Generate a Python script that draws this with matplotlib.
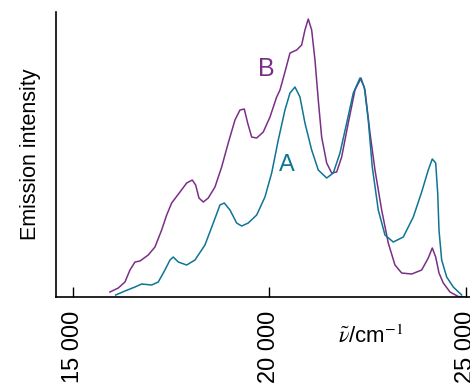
import matplotlib.pyplot as plt

plt.rcParams['font.family'] = ['Liberation Sans', 'DejaVu Sans']
plt.rcParams['mathtext.fontset'] = 'stix'

# spectrum B (purple): wavenumber / cm-1, intensity (arb. units)
b_wn = [15942, 16153, 16323, 16451, 16578, 16705, 16916, 17087, 17257, 17385,
        17512, 17723, 17894, 18036, 18123, 18207, 18316, 18443, 18614, 18784,
        18952, 19123, 19250, 19360, 19446, 19548, 19675, 19843, 20014, 20184,
        20268, 20395, 20523, 20693, 20820, 20904, 20988, 21075, 21159, 21243,
        21329, 21457, 21584, 21711, 21838, 22006, 22177, 22330, 22431, 22559,
        22686, 22856, 23024, 23195, 23365, 23620, 23874, 24042, 24144, 24231,
        24315, 24424, 24595, 24806, 24976]
b_int = [5, 9, 15, 27, 35, 36, 42, 50, 67, 82,
         94, 105, 114, 117, 112, 99, 95, 99, 110, 130,
         154, 177, 187, 188, 174, 160, 159, 165, 180, 200,
         207, 225, 244, 247, 252, 267, 278, 267, 237, 197,
         160, 134, 124, 125, 140, 174, 207, 219, 207, 164,
         127, 87, 54, 32, 24, 23, 27, 39, 49, 40,
         24, 14, 5, 0.5, 0]

# spectrum A (teal)
a_wn = [16087, 16323, 16578, 16748, 17003, 17171, 17341, 17469, 17553, 17680,
        17894, 18105, 18359, 18571, 18741, 18851, 18996, 19166, 19293, 19461,
        19675, 19886, 20057, 20225, 20395, 20523, 20650, 20777, 20904, 21075,
        21243, 21457, 21625, 21795, 21966, 22134, 22304, 22414, 22515, 22617,
        22770, 22940, 23152, 23406, 23661, 23874, 24042, 24144, 24231, 24282,
        24315, 24383, 24511, 24679, 24892]
a_int = [2, 6, 10, 13, 12, 15, 27, 37, 40, 35,
         32, 37, 52, 74, 92, 94, 87, 74, 71, 74,
         82, 100, 124, 157, 187, 204, 210, 200, 174, 147,
         127, 119, 124, 144, 174, 204, 219, 210, 177, 130,
         87, 62, 55, 60, 80, 105, 127, 138, 134, 104,
         67, 37, 20, 10, 2]

tick_pos = [15000, 20000, 25000]
tick_labels = ['15 000', '20 000', '25 000']

col_a = '#0e7593'
col_b = '#7a2f87'

fig = plt.figure(figsize=(4.7, 3.88), dpi=100)
ax = fig.add_axes([0.119, 0.2345, 0.881, 0.7345])

ax.plot(b_wn, b_int, color=col_b, lw=1.1, solid_joinstyle='round')
ax.plot(a_wn, a_int, color=col_a, lw=1.1, solid_joinstyle='round')

ax.set_xlim(14567, 25104)
ax.set_ylim(0, 285)

ax.spines['top'].set_visible(False)
ax.spines['right'].set_visible(False)
ax.spines['left'].set_linewidth(1.2)
ax.spines['bottom'].set_linewidth(1.2)

ax.set_yticks([])
ax.set_xticks(tick_pos)
ax.set_xticklabels(tick_labels, rotation=90, fontsize=17, va='top')
ax.tick_params(axis='x', direction='in', length=7, width=1.0, pad=10)

ax.set_ylabel('Emission intensity', fontsize=15.5)
ax.yaxis.set_label_coords(-0.036, 0.5)

ax.text(0.76, -0.14, r'$\tilde{\nu}$/cm$^{-1}$', transform=ax.transAxes,
        ha='center', va='center', fontsize=16)

ax.text(19912, 228, 'B', color=col_b, fontsize=18, ha='center', va='center')
ax.text(20446, 132, 'A', color=col_a, fontsize=17, ha='center', va='center')

fig.savefig('out.png', dpi=100)
